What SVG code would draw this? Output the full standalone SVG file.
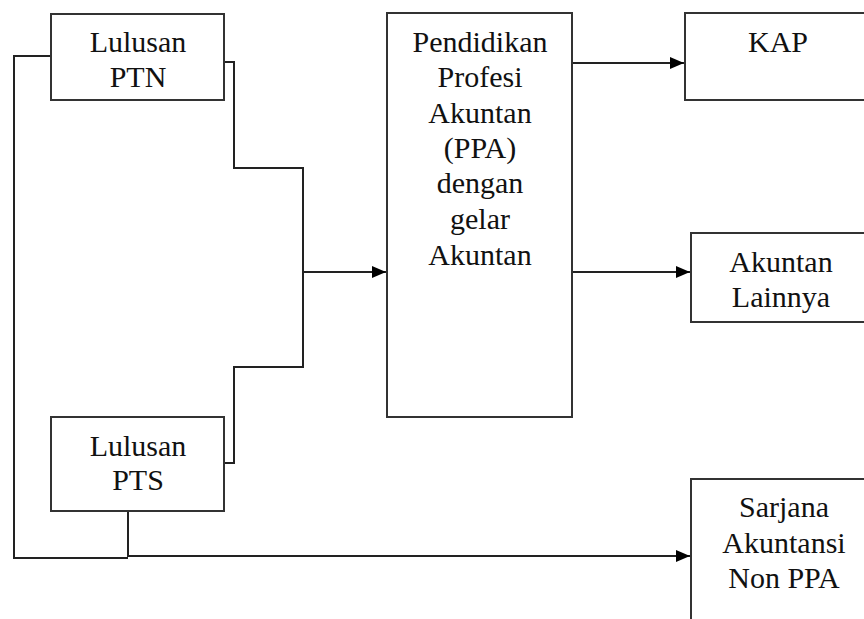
<svg xmlns="http://www.w3.org/2000/svg" width="864" height="619" viewBox="0 0 864 619">
<style>
.box{fill:#fff;stroke:#333;stroke-width:2}
.ln{fill:none;stroke:#222;stroke-width:2}
text{font-family:"Liberation Serif","Times New Roman",serif;font-size:30px;fill:#111;text-anchor:middle}
</style>
<defs>
<marker id="ah" viewBox="0 0 14 12" refX="14" refY="6" markerWidth="14" markerHeight="12" markerUnits="userSpaceOnUse" orient="auto">
<path d="M0,0 L14,6 L0,12 Z" fill="#000"/>
</marker>
</defs>
<rect width="864" height="619" fill="#fff"/>
<g id="connectors">
<path class="ln" d="M224,62 H234 V168 H303 V367 H234 V463 H224"/>
<path class="ln" d="M303,272 H386" marker-end="url(#ah)"/>
<path class="ln" d="M572,63 H684" marker-end="url(#ah)"/>
<path class="ln" d="M572,272 H690" marker-end="url(#ah)"/>
<path class="ln" d="M51,56 H14 V558 H128"/>
<path class="ln" d="M128,511 V556 H690" marker-end="url(#ah)"/>
</g>
<g id="lulusan-ptn">
<rect class="box" x="51" y="14" width="173" height="86"/>
<text x="138" y="52">Lulusan</text>
<text x="138" y="87">PTN</text>
</g>
<g id="lulusan-pts">
<rect class="box" x="51" y="417" width="173" height="94"/>
<text x="138" y="456">Lulusan</text>
<text x="138" y="490">PTS</text>
</g>
<g id="ppa">
<rect class="box" x="387" y="13" width="185" height="404"/>
<text x="480" y="52">Pendidikan</text>
<text x="480" y="87">Profesi</text>
<text x="480" y="123">Akuntan</text>
<text x="480" y="158">(PPA)</text>
<text x="480" y="193">dengan</text>
<text x="480" y="229">gelar</text>
<text x="480" y="265">Akuntan</text>
</g>
<g id="kap">
<rect class="box" x="685" y="13" width="190" height="87"/>
<text x="778" y="52">KAP</text>
</g>
<g id="akuntan-lainnya">
<rect class="box" x="691" y="233" width="190" height="89"/>
<text x="781" y="272">Akuntan</text>
<text x="781" y="307">Lainnya</text>
</g>
<g id="sarjana-non-ppa">
<rect class="box" x="691" y="479" width="190" height="160"/>
<text x="784" y="517">Sarjana</text>
<text x="784" y="553">Akuntansi</text>
<text x="784" y="588">Non PPA</text>
</g>
</svg>
